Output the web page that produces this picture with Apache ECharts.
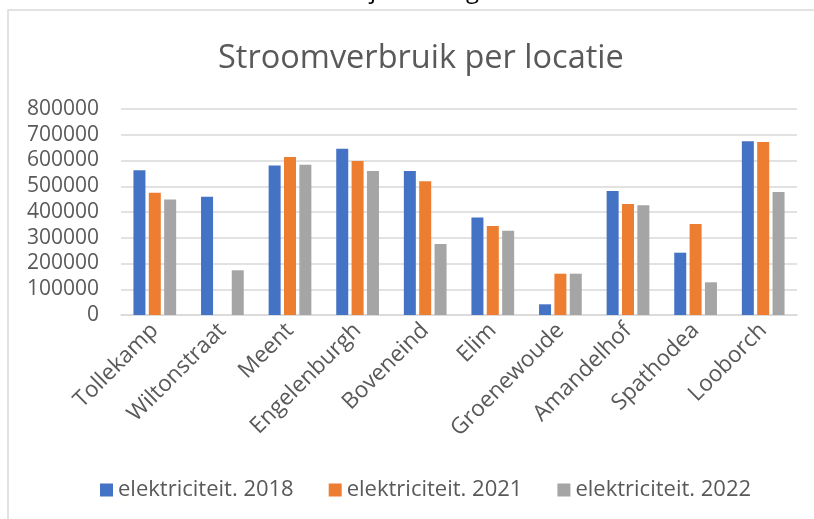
<!DOCTYPE html>
<html>
<head>
<meta charset="utf-8">
<script src="https://cdn.jsdelivr.net/npm/echarts@6/dist/echarts.min.js"></script>
<style>
  html, body { margin: 0; padding: 0; background: #fff; }
  #chart { width: 814px; height: 519px; }
</style>
</head>
<body>
<div id="chart"></div>
<script>
// locaties
var locaties = ['Tollekamp', 'Wiltonstraat', 'Meent', 'Engelenburgh', 'Boveneind',
    'Elim', 'Groenewoude', 'Amandelhof', 'Spathodea', 'Looborch'];

// verbruik per jaar
var elek2018 = [562000, 459000, 581000, 646000, 559000, 379000, 41500, 481500, 242000, 674500];
var elek2021 = [475000, 0, 613500, 598000, 519000, 345600, 160400, 431000, 353400, 671800];
var elek2022 = [449000, 173600, 583600, 559000, 275700, 327400, 160400, 426000, 127000, 477700];

var seriesNames = ['elektriciteit. 2018', 'elektriciteit. 2021', 'elektriciteit. 2022'];
var kleuren = ['#4472C4', '#ED7D31', '#A5A5A5'];

var tekstKleur = '#595959';
var lijnKleur = '#D9D9D9';
var font = 'Open Sans';

var chart = echarts.init(document.getElementById('chart'), null, { renderer: 'canvas' });

function maakSerie(naam, data, kleur) {
    return {
        name: naam,
        type: 'bar',
        data: data,
        barWidth: 12,
        barGap: '28%',
        itemStyle: { color: kleur },
        animation: false
    };
}

var option = {
    animation: false,
    color: kleuren,
    title: {
        text: 'Stroomverbruik per locatie',
        left: 213,
        top: 37,
        textStyle: { fontFamily: font, fontSize: 32.5, fontWeight: 'normal', color: tekstKleur }
    },
    legend: {
        bottom: 13,
        left: 95,
        itemWidth: 13,
        itemHeight: 13,
        itemGap: 35,
        icon: 'rect',
        textStyle: { fontFamily: font, fontSize: 22, color: tekstKleur },
        data: seriesNames
    },
    grid: {
        left: 121,
        right: 17,
        top: 109,
        bottom: 204
    },
    xAxis: {
        type: 'category',
        data: locaties,
        axisLine: { lineStyle: { color: lijnKleur, width: 1.5 } },
        axisTick: { show: false },
        axisLabel: {
            interval: 0,
            rotate: 45,
            margin: 12,
            fontFamily: font,
            fontSize: 22.5,
            color: tekstKleur
        }
    },
    yAxis: {
        type: 'value',
        min: 0,
        max: 800000,
        interval: 100000,
        axisLine: { show: false },
        axisTick: { show: false },
        splitLine: { lineStyle: { color: lijnKleur, width: 1.5 } },
        axisLabel: {
            margin: 22,
            fontFamily: font,
            fontSize: 21,
            color: tekstKleur,
            formatter: function (v) { return String(v); }
        }
    },
    graphic: [
        {
            type: 'rect',
            shape: { x: 8, y: 10, width: 830, height: 530 },
            style: { fill: null, stroke: lijnKleur, lineWidth: 1.5 },
            silent: true
        },
        {
            type: 'text',
            left: 370,
            top: -21,
            style: { text: 'j', fontFamily: font, fontSize: 24, fill: '#000' },
            silent: true
        },
        {
            type: 'text',
            left: 466,
            top: -21,
            style: { text: 'g', fontFamily: font, fontSize: 24, fill: '#000' },
            silent: true
        }
    ],
    series: [
        maakSerie(seriesNames[0], elek2018, kleuren[0]),
        maakSerie(seriesNames[1], elek2021, kleuren[1]),
        maakSerie(seriesNames[2], elek2022, kleuren[2])
    ]
};

chart.setOption(option);
</script>
</body>
</html>
